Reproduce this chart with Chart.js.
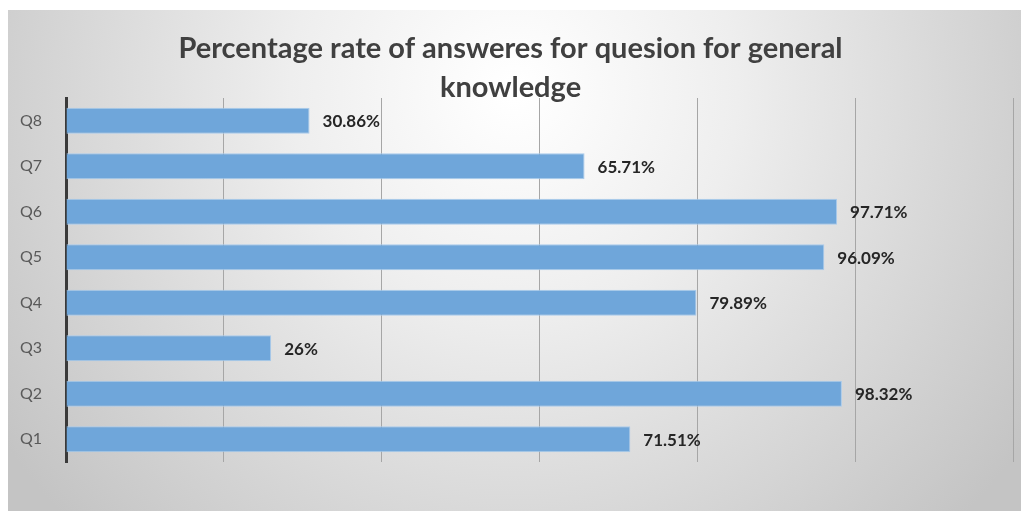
<!DOCTYPE html>
<html>
<head>
<meta charset="utf-8">
<script src="https://cdn.jsdelivr.net/npm/chart.js@4"></script>
<style>
  html, body { margin: 0; padding: 0; background: #fff; }
  #wrap { width: 1021px; height: 511px; position: relative; }
</style>
</head>
<body>
<div id="wrap"><canvas id="chart" width="1021" height="511"></canvas></div>
<script>
const questions = ['Q1', 'Q2', 'Q3', 'Q4', 'Q5', 'Q6', 'Q7', 'Q8'];
const rates = [71.51, 98.32, 26, 79.89, 96.09, 97.71, 65.71, 30.86];
const rateLabels = ['71.51%', '98.32%', '26%', '79.89%', '96.09%', '97.71%', '65.71%', '30.86%'];
const titleLines = ['Percentage rate of answeres for quesion for general', 'knowledge'];

const FONT = "Lato, 'Open Sans', sans-serif";

// gray radial backdrop like the office chart frame
const frameBg = {
  id: 'frameBg',
  beforeDraw(chart) {
    const ctx = chart.ctx;
    const x0 = 8, y0 = 10, w = chart.width - x0, h = chart.height - y0;
    ctx.save();
    const g = ctx.createRadialGradient(514, 90, 10, 514, 90, 620);
    g.addColorStop(0, '#ffffff');
    g.addColorStop(0.35, '#eeeeee');
    g.addColorStop(1, '#c4c4c4');
    ctx.fillStyle = g;
    ctx.fillRect(x0, y0, w, h);
    ctx.restore();
  }
};

// value labels after bar ends
const valueLabels = {
  id: 'valueLabels',
  afterDatasetsDraw(chart) {
    const ctx = chart.ctx;
    const meta = chart.getDatasetMeta(0);
    ctx.save();
    ctx.font = "bold 17px " + FONT;
    ctx.fillStyle = '#262626';
    ctx.textBaseline = 'middle';
    meta.data.forEach((bar, i) => {
      ctx.fillText(rateLabels[i], bar.x + 13, bar.y + 1);
    });
    ctx.restore();
  }
};

new Chart(document.getElementById('chart').getContext('2d'), {
  type: 'bar',
  data: {
    labels: questions,
    datasets: [{
      data: rates,
      backgroundColor: '#6fa6da',
      borderColor: '#a9cbec',
      borderWidth: 1,
      barPercentage: 0.57,
      categoryPercentage: 1
    }]
  },
  options: {
    indexAxis: 'y',
    responsive: false,
    animation: false,
    layout: { padding: { left: 8, right: 8, top: 29, bottom: 49 } },
    plugins: {
      legend: { display: false },
      tooltip: { enabled: false },
      title: {
        display: true,
        text: titleLines,
        color: '#404040',
        font: { family: FONT, size: 29, weight: 'bold', lineHeight: 1.345 },
        padding: { top: 0, bottom: -9 }
      }
    },
    scales: {
      x: {
        min: 0, max: 120,
        ticks: { display: false, stepSize: 20 },
        grid: { color: '#a6a6a6', lineWidth: 1, drawTicks: false },
        border: { display: false }
      },
      y: {
        reverse: true,
        grid: { display: false, drawTicks: false },
        border: { display: true, color: '#3a3a3a', width: 3 },
        ticks: { color: '#595959', padding: 24, font: { family: FONT, size: 16 } },
        afterFit(scale) { scale.width = 58; }
      }
    }
  },
  plugins: [frameBg, valueLabels]
});
</script>
</body>
</html>
